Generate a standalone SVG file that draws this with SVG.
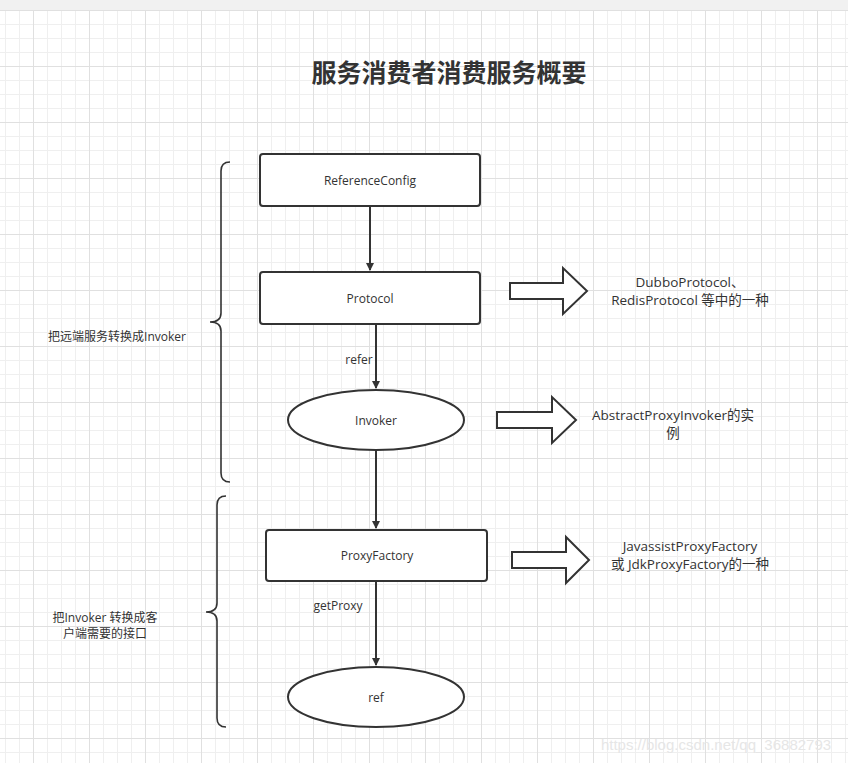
<svg xmlns="http://www.w3.org/2000/svg" width="848" height="763" viewBox="0 0 848 763">
<style>
.box{fill:#fff;stroke:#333;stroke-width:2}
.ell{fill:#fff;stroke:#333;stroke-width:2}
.blk{fill:#fff;stroke:#333;stroke-width:2;stroke-linejoin:miter}
.t{font-family:"Open Sans","Noto Sans CJK SC",sans-serif;font-size:12px;fill:#333;text-anchor:middle}
.r{font-family:"Open Sans","Noto Sans CJK SC",sans-serif;font-size:13.5px;fill:#333;text-anchor:middle}
.ttl{font-family:"Noto Sans CJK SC",sans-serif;font-size:25px;font-weight:bold;fill:#333;text-anchor:middle}
.con{stroke:#333;stroke-width:2;fill:none}
.brace{stroke:#333;stroke-width:1.6;fill:none}
</style>
<defs>
<pattern id="minor" x="5" y="10" width="14" height="14" patternUnits="userSpaceOnUse">
<path d="M0.5,0V14M0,0.5H14" stroke="#efefef" stroke-width="1" fill="none"/>
</pattern>
<pattern id="major" x="33" y="10" width="56" height="56" patternUnits="userSpaceOnUse">
<path d="M0.5,0V56M0,0.5H56" stroke="#e0e0e0" stroke-width="1" fill="none"/>
</pattern>
<marker id="arr" markerWidth="10" markerHeight="12" refX="7" refY="5" orient="auto" markerUnits="userSpaceOnUse" viewBox="0 0 10 10">
<path d="M0,1 L8,5 L0,9 Z" fill="#333"/>
</marker>
</defs>
<rect width="848" height="763" fill="#fff"/>
<rect y="10" width="848" height="753" fill="url(#minor)"/>
<rect y="10" width="848" height="753" fill="url(#major)"/>
<rect width="848" height="10" fill="#f1f1f1"/>

<text class="ttl" x="449" y="82">服务消费者消费服务概要</text>

<g id="connectors">
<line class="con" x1="370" y1="207" x2="370" y2="270" marker-end="url(#arr)"/>
<line class="con" x1="376" y1="325" x2="376" y2="388" marker-end="url(#arr)"/>
<line class="con" x1="376" y1="451" x2="376" y2="528" marker-end="url(#arr)"/>
<line class="con" x1="376" y1="582" x2="376" y2="665" marker-end="url(#arr)"/>
<text class="t" x="359" y="364">refer</text>
<text class="t" x="338" y="610">getProxy</text>
</g>

<g id="referenceconfig">
<rect class="box" x="260" y="154" width="220" height="52" rx="3"/>
<text class="t" x="370" y="185">ReferenceConfig</text>
</g>
<g id="protocol">
<rect class="box" x="260" y="272" width="220" height="52" rx="3"/>
<text class="t" x="370" y="303">Protocol</text>
</g>
<g id="invoker">
<ellipse class="ell" cx="376" cy="420" rx="88" ry="30"/>
<text class="t" x="376" y="425">Invoker</text>
</g>
<g id="proxyfactory">
<rect class="box" x="266" y="530" width="221" height="51" rx="3"/>
<text class="t" x="377" y="560">ProxyFactory</text>
</g>
<g id="ref">
<ellipse class="ell" cx="376" cy="697" rx="88" ry="30"/>
<text class="t" x="376" y="702">ref</text>
</g>

<g id="arrow1">
<path class="blk" d="M510,283 H563 V268 L587,291 L563,314 V299 H510 Z"/>
<text class="r" x="690" y="287">DubboProtocol、</text>
<text class="r" x="690" y="305">RedisProtocol 等中的一种</text>
</g>
<g id="arrow2">
<path class="blk" d="M497,412 H552 V397 L576,420 L552,443 V428 H497 Z"/>
<text class="r" x="673" y="420">AbstractProxyInvoker的实</text>
<text class="r" x="673" y="438">例</text>
</g>
<g id="arrow3">
<path class="blk" d="M512,552 H566 V537 L589,560 L566,583 V568 H512 Z"/>
<text class="r" x="690" y="551">JavassistProxyFactory</text>
<text class="r" x="690" y="569">或 JdkProxyFactory的一种</text>
</g>

<g id="brace1">
<path class="brace" d="M230,162 Q221,162 221,171 L221,313 Q221,322 210,322 Q221,322 221,331 L221,473 Q221,482 230,482"/>
<text class="t" x="117" y="341">把远端服务转换成Invoker</text>
</g>
<g id="brace2">
<path class="brace" d="M226,496 Q217,496 217,505 L217,603 Q217,612 206,612 Q217,612 217,621 L217,718 Q217,727 226,727"/>
<text class="t" x="105" y="622">把Invoker 转换成客</text>
<text class="t" x="105" y="638">户端需要的接口</text>
</g>

<text x="716" y="750" font-family="Liberation Sans,sans-serif" font-size="15" fill="#e6e6e6" text-anchor="middle">https://blog.csdn.net/qq_36882793</text>
</svg>
